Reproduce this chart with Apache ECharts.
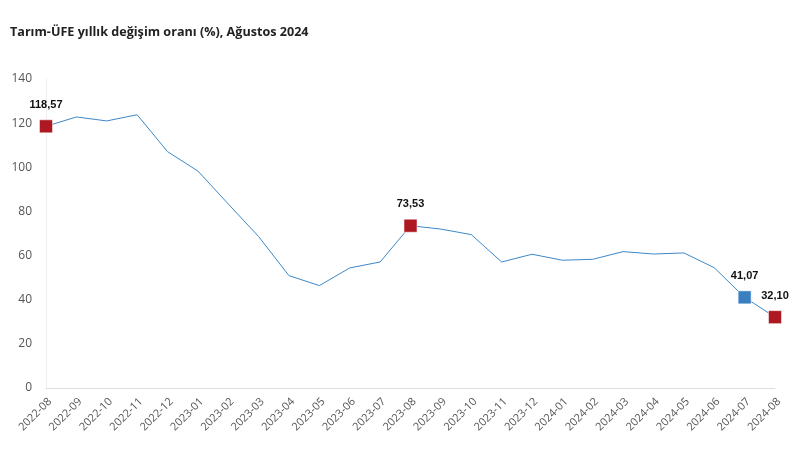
<!DOCTYPE html>
<html>
<head>
<meta charset="utf-8">
<script src="https://cdn.jsdelivr.net/npm/echarts@6/dist/echarts.min.js"></script>
<style>html,body{margin:0;padding:0;background:#fff}#c{width:804px;height:453px}</style>
</head>
<body>
<div id="c"></div>
<script>
const categories = ["2022-08","2022-09","2022-10","2022-11","2022-12","2023-01","2023-02","2023-03","2023-04","2023-05","2023-06","2023-07","2023-08","2023-09","2023-10","2023-11","2023-12","2024-01","2024-02","2024-03","2024-04","2024-05","2024-06","2024-07","2024-08"];
const values = [118.57,122.8,121.0,123.8,107.1,98.3,83.4,68.6,50.9,46.4,54.4,57.1,73.53,72.0,69.5,57.1,60.6,57.9,58.3,61.8,60.7,61.2,54.5,41.07,32.10];
const highlightIdx = [0,12,23,24];
const highlightColor = ["#AE1820","#AE1820","#3A7FC0","#AE1820"];
const yTicks = [0,20,40,60,80,100,120,140];

const data = values.map((v,i)=>{
  const h = highlightIdx.indexOf(i);
  if (h < 0) return {value:v, symbol:'none'};
  return {
    value:v, symbol:'rect', symbolSize:13,
    itemStyle:{color:highlightColor[h], borderColor:'rgba(255,255,255,0.5)', borderWidth:1},
    label:{show:true, position:'top', distance:9,
      formatter: ()=>v.toFixed(2).replace('.',','),
      fontFamily:'Liberation Sans, Arial', fontWeight:'bold', fontSize:11, color:'#111'}
  };
});

const chart = echarts.init(document.getElementById('c'), null, {renderer:'canvas'});
chart.setOption({
  animation:false,
  title:{text:'Tarım-ÜFE yıllık değişim oranı (%), Ağustos 2024', left:5, top:21, padding:5,
    textStyle:{fontFamily:'Open Sans', fontWeight:'bold', fontSize:12.6, color:'#222'}},
  grid:{left:46, right:29, top:79, bottom:65},
  xAxis:{type:'category', data:categories, boundaryGap:false,
    axisLine:{lineStyle:{color:'#DDDDDD'}}, axisTick:{show:false},
    axisLabel:{rotate:45, interval:0, color:'#555', fontFamily:'Open Sans', fontSize:11, margin:8, verticalAlign:'top'}},
  yAxis:{type:'value', min:0, max:140, interval:20,
    axisLine:{show:true, lineStyle:{color:'#EEEEEE'}}, axisTick:{show:false},
    splitLine:{show:false},
    axisLabel:{color:'#555', fontFamily:'Open Sans', fontSize:12, margin:14,
      formatter:(v)=> yTicks.includes(v)? String(v):''}},
  series:[{type:'line', data:data, showSymbol:true,
    lineStyle:{color:'#3C88C8', width:1}, itemStyle:{color:'#3C88C8'}, z:3}]
});
</script>
</body>
</html>
